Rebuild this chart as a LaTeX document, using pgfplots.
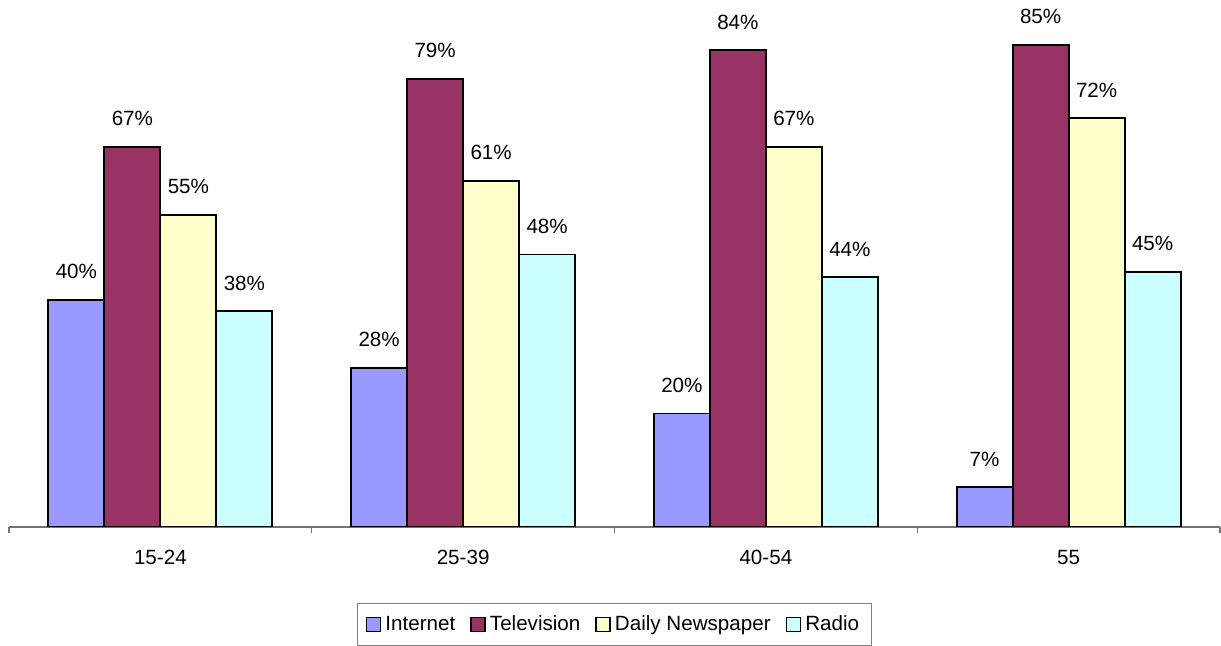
\documentclass[border=0pt]{standalone}
\usepackage{pgfplots}
\pgfplotsset{compat=1.18}
\usepackage{fontspec}
\setmainfont{Liberation Sans}
\definecolor{cInt}{HTML}{9999FF}
\definecolor{cTV}{HTML}{993366}
\definecolor{cDN}{HTML}{FFFFCC}
\definecolor{cRad}{HTML}{CCFFFF}
\begin{document}
\begin{tikzpicture}[font=\fontsize{10.3pt}{12pt}\selectfont]
\begin{axis}[
  at={(4.5pt,59.5pt)}, anchor=south west,
  scale only axis, width=605.5pt, height=263.9pt,
  ymin=0, ymax=93, xmin=-0.5, xmax=3.5,
  /pgf/number format/assume math mode=true,
  axis x line*=bottom, axis y line=none,
  x axis line style={draw=black!55, line width=0.6pt},
  ybar=0pt, bar width=28pt,
  xtick={0,1,2,3}, xticklabels={15-24,25-39,40-54,55},
  major tick length=0pt,
  xticklabel style={anchor=north, inner sep=0pt, yshift=-11.5pt},
  extra x ticks={-0.5,0.5,1.5,2.5,3.5}, extra x tick labels={},
  extra x tick style={major tick length=3pt, tick align=outside, tick style={draw=black!55, line width=0.6pt}},
  nodes near coords={\pgfmathprintnumber{\pgfplotspointmeta}\%},
  every node near coord/.append style={anchor=south, inner sep=0pt, yshift=10pt, black},
  every axis plot/.append style={draw=black, line width=0.9pt},
  legend columns=-1,
  legend style={at={(0.5,0)}, anchor=north, yshift=-38pt, draw=black!50, line width=0.6pt,
    inner xsep=4pt, inner ysep=4pt,
    /tikz/every even column/.append style={column sep=5.5pt},
    nodes={inner sep=2pt}},
  legend image code/.code={\draw[#1,/tikz/.cd,line width=0.8pt] (0pt,-3.5pt) rectangle (7pt,3.5pt);},
]
\addplot[fill=cInt] coordinates {(0,40) (1,28) (2,20) (3,7)};
\addplot[fill=cTV] coordinates {(0,67) (1,79) (2,84) (3,85)};
\addplot[fill=cDN] coordinates {(0,55) (1,61) (2,67) (3,72)};
\addplot[fill=cRad] coordinates {(0,38) (1,48) (2,44) (3,45)};
\legend{Internet,Television,Daily Newspaper,Radio}
\end{axis}
\pgfresetboundingbox
\useasboundingbox (0,0) rectangle (610.5pt,323pt);
\end{tikzpicture}
\end{document}
